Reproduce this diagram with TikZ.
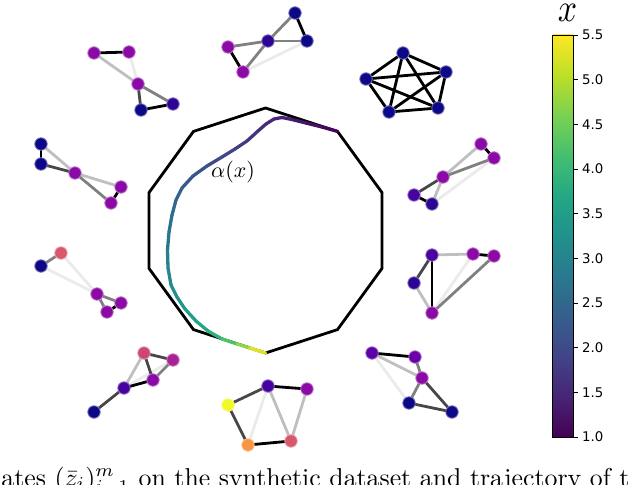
\documentclass[tikz,border=0pt]{standalone}
\usepackage{fontspec}
\usepackage{graphicx}
\newfontfamily\djv{DejaVu Sans}
% viridis
\definecolor{v0}{HTML}{440154}
\definecolor{v1}{HTML}{482475}
\definecolor{v2}{HTML}{414487}
\definecolor{v3}{HTML}{355F8D}
\definecolor{v4}{HTML}{2A788E}
\definecolor{v5}{HTML}{21918C}
\definecolor{v6}{HTML}{22A884}
\definecolor{v7}{HTML}{44BF70}
\definecolor{v8}{HTML}{7AD151}
\definecolor{v9}{HTML}{BDDF26}
\definecolor{v10}{HTML}{FDE725}
% plasma-like node colours
\definecolor{dkb}{HTML}{0D0887}
\definecolor{indA}{HTML}{2C0594}
\definecolor{indB}{HTML}{46039F}
\definecolor{purA}{HTML}{5C01A6}
\definecolor{purB}{HTML}{6A00A8}
\definecolor{purC}{HTML}{8B0AA5}
\definecolor{magC}{HTML}{A82296}
\definecolor{pinkC}{HTML}{CC4778}
\definecolor{roseC}{HTML}{D8576B}
\definecolor{orngC}{HTML}{F89540}
\definecolor{yelC}{HTML}{F0F921}
\pgfdeclareverticalshading{viridisbar}{100bp}{color(0bp)=(v0); color(25bp)=(v0); color(30bp)=(v1); color(35bp)=(v2); color(40bp)=(v3); color(45bp)=(v4); color(50bp)=(v5); color(55bp)=(v6); color(60bp)=(v7); color(65bp)=(v8); color(70bp)=(v9); color(75bp)=(v10); color(100bp)=(v10)}
\tikzset{
  gn/.style={circle, minimum size=12.5bp, inner sep=0pt, line width=0.8bp, fill=#1, draw=#1!55!white},
  ge/.style={line width=2.8bp, draw=#1},
  e0/.style={ge=black},
  e1/.style={ge=black!72},
  e2/.style={ge=black!50},
  e3/.style={ge=black!25},
  e4/.style={ge=black!8},
  poly/.style={line width=2.8bp, black, line join=miter},
  traj/.style={line width=3.3bp, line cap=round, line join=round},
  tick/.style={line width=0.8bp, black},
  ticklab/.style={anchor=west, inner sep=0pt, font=\djv\fontsize{13.3bp}{16bp}\selectfont}
}
\begin{document}
\begin{tikzpicture}[x=1bp, y=-1bp]
\useasboundingbox (0,0) rectangle (640,485);
\clip (0,0) rectangle (640,485);

% ---------- decagon ----------
\draw[poly] (265.5,108) -- (193.5,131.4) -- (149.0,192.6) -- (149.0,268.4) -- (193.5,329.6)
  -- (265.5,353) -- (337.5,329.6) -- (382.0,268.4) -- (382.0,192.6) -- (337.5,131.4) -- cycle;

% ---------- trajectory alpha(x) ----------
\foreach \i/\px/\py in {0/337.5/131.4, 1/322/127, 2/306/123, 3/292/119.5, 4/282/117.5, 5/274/119, 6/266/124,
  7/258/131, 8/247/141, 9/235/149, 10/222/157, 11/207/166, 12/193/176, 13/182/188, 14/176/200,
  15/172/215, 16/169/232, 17/167.5/250, 18/168/268, 19/171/285, 20/177/297, 21/185/309,
  22/196/321, 23/208/331, 24/222/339, 25/237/344, 26/250/348, 27/265.5/353}
  {\coordinate (p\i) at (\px,\py);}
\foreach \i/\tv in {1/15,2/40,3/65,4/85,5/100,6/115,7/130,8/150,9/175,10/200,11/225,12/250,13/280,14/310,
  15/340,16/370,17/400,18/430,19/460,20/490,21/520,22/550,23/590,24/640,25/720,26/830,27/950}
{
  \pgfmathtruncatemacro\j{\i-1}
  \pgfmathtruncatemacro\k{\tv/100}
  \pgfmathtruncatemacro\f{\tv-100*\k}
  \pgfmathtruncatemacro\kk{min(\k+1,10)}
  \colorlet{segc}{v\kk!\f!v\k}
  \draw[traj, segc] (p\j) -- (p\i);
}
\node[anchor=base west, inner sep=0pt] (alab) at (211,177.5) {\scalebox{2.2}{$\alpha(x)$}};

% ---------- graph 1 (top left) ----------
\coordinate (a1) at (94,53);
\coordinate (a2) at (129,52);
\coordinate (a3) at (138,84);
\coordinate (a4) at (141,110);
\coordinate (a5) at (173,104);
\draw[e4] (a2) -- (a3);
\draw[e3] (a1) -- (a3);
\draw[e1] (a3) -- (a4);
\draw[e2] (a3) -- (a5);
\draw[e0] (a1) -- (a2);
\draw[e0] (a4) -- (a5);
\foreach \n/\c in {a1/purC,a2/purC,a3/purC,a4/dkb,a5/indA} {\node[gn=\c] (n\n) at (\n) {};}

% ---------- graph 2 (top) ----------
\coordinate (b1) at (295,13);
\coordinate (b2) at (307,41);
\coordinate (b3) at (268,41);
\coordinate (b4) at (228,47);
\coordinate (b5) at (243,72);
\draw[e4] (b5) -- (b2);
\draw[e2] (b1) -- (b3);
\draw[e2] (b3) -- (b2);
\draw[e2] (b3) -- (b4);
\draw[e2] (b3) -- (b5);
\draw[e0] (b1) -- (b2);
\draw[e0] (b4) -- (b5);
\foreach \n/\c in {b1/dkb,b2/dkb,b3/indA,b4/purC,b5/purC} {\node[gn=\c] (n\n) at (\n) {};}

% ---------- graph 3 (K5) ----------
\coordinate (c1) at (403,53);
\coordinate (c2) at (446,72);
\coordinate (c3) at (366,79);
\coordinate (c4) at (389,112);
\coordinate (c5) at (438,108);
\foreach \u/\v in {c1/c2,c1/c3,c1/c4,c1/c5,c2/c3,c2/c4,c2/c5,c3/c4,c3/c5,c4/c5} {\draw[e0] (\u) -- (\v);}
\foreach \n in {c1,c2,c3,c4,c5} {\node[gn=dkb] (n\n) at (\n) {};}

% ---------- graph 4 (left upper) ----------
\coordinate (d1) at (41,144);
\coordinate (d2) at (41,164);
\coordinate (d3) at (75,173);
\coordinate (d4) at (121,187);
\coordinate (d5) at (111,203);
\draw[e3] (d1) -- (d3);
\draw[e3] (d3) -- (d4);
\draw[e2] (d3) -- (d5);
\draw[e1] (d2) -- (d3);
\draw[e0] (d1) -- (d2);
\draw[e0] (d4) -- (d5);
\foreach \n/\c in {d1/dkb,d2/dkb,d3/purC,d4/purC,d5/purC} {\node[gn=\c] (n\n) at (\n) {};}

% ---------- graph 5 (left lower) ----------
\coordinate (e1) at (61,253);
\coordinate (e2) at (41,266);
\coordinate (e3) at (97,294);
\coordinate (e4) at (121,303);
\coordinate (e5) at (107,312);
\draw[e4] (e1) -- (e3);
\draw[e4] (e2) -- (e3);
\draw[e2] (e2) -- (e1);
\draw[e2] (e3) -- (e4);
\draw[e2] (e3) -- (e5);
\draw[e0] (e4) -- (e5);
\foreach \n/\c in {e1/roseC,e2/dkb,e3/purC,e4/purC,e5/purC} {\node[gn=\c] (n\n) at (\n) {};}

% ---------- graph 6 (right upper) ----------
\coordinate (f1) at (481,144);
\coordinate (f2) at (494,158);
\coordinate (f3) at (443,177);
\coordinate (f4) at (414,195);
\coordinate (f5) at (432,204);
\draw[e4] (f2) -- (f5);
\draw[e3] (f1) -- (f3);
\draw[e3] (f3) -- (f5);
\draw[e2] (f2) -- (f3);
\draw[e1] (f3) -- (f4);
\draw[e0] (f1) -- (f2);
\draw[e0] (f4) -- (f5);
\foreach \n/\c in {f1/purC,f2/purC,f3/purC,f4/indB,f5/indA} {\node[gn=\c] (n\n) at (\n) {};}

% ---------- graph 7 (right lower) ----------
\coordinate (g1) at (432,255);
\coordinate (g2) at (473,254);
\coordinate (g3) at (494,256);
\coordinate (g4) at (414,283);
\coordinate (g5) at (432,313);
\draw[e4] (g2) -- (g5);
\draw[e3] (g1) -- (g2);
\draw[e3] (g4) -- (g5);
\draw[e2] (g3) -- (g5);
\draw[e1] (g1) -- (g4);
\draw[e0] (g2) -- (g3);
\draw[e0] (g1) -- (g5);
\foreach \n/\c in {g1/indB,g2/purC,g3/purC,g4/indA,g5/purC} {\node[gn=\c] (n\n) at (\n) {};}

% ---------- graph 8 (bottom left) ----------
\coordinate (h1) at (144,353);
\coordinate (h2) at (173,360);
\coordinate (h3) at (153,380);
\coordinate (h4) at (124,388);
\coordinate (h5) at (94,412);
\draw[e4] (h2) -- (h4);
\draw[e3] (h1) -- (h4);
\draw[e2] (h2) -- (h3);
\draw[e1] (h1) -- (h2);
\draw[e1] (h1) -- (h3);
\draw[e1] (h4) -- (h5);
\draw[e0] (h3) -- (h4);
\foreach \n/\c in {h1/pinkC,h2/magC,h3/purC,h4/indB,h5/dkb} {\node[gn=\c] (n\n) at (\n) {};}

% ---------- graph 9 (bottom) ----------
\coordinate (i1) at (268,386);
\coordinate (i2) at (307,389);
\coordinate (i3) at (228,405);
\coordinate (i4) at (248,445);
\coordinate (i5) at (291,441);
\draw[e4] (i1) -- (i4);
\draw[e3] (i1) -- (i5);
\draw[e3] (i2) -- (i5);
\draw[e1] (i1) -- (i3);
\draw[e1] (i3) -- (i4);
\draw[e0] (i1) -- (i2);
\draw[e0] (i4) -- (i5);
\foreach \n/\c in {i1/indB,i2/purC,i3/yelC,i4/orngC,i5/roseC} {\node[gn=\c] (n\n) at (\n) {};}

% ---------- graph 10 (bottom right) ----------
\coordinate (j1) at (372,353);
\coordinate (j2) at (415,357);
\coordinate (j3) at (422,378);
\coordinate (j4) at (409,403);
\coordinate (j5) at (452,412);
\draw[e4] (j1) -- (j4);
\draw[e3] (j1) -- (j3);
\draw[e2] (j2) -- (j3);
\draw[e2] (j3) -- (j4);
\draw[e1] (j3) -- (j5);
\draw[e1] (j4) -- (j5);
\draw[e0] (j1) -- (j2);
\foreach \n/\c in {j1/purA,j2/purB,j3/purC,j4/dkb,j5/dkb} {\node[gn=\c] (n\n) at (\n) {};}

% ---------- colorbar ----------
\shade[shading=viridisbar] (552.5,35) rectangle (573,437);
\draw[line width=0.8bp] (552.5,35) rectangle (573,437);
\foreach \v/\y in {1.0/437,1.5/392.3,2.0/347.7,2.5/303,3.0/258.3,3.5/213.7,4.0/169,4.5/124.3,5.0/79.7,5.5/35}
{
  \draw[tick] (573,\y) -- (578,\y);
  \node[ticklab] at (582,\y) {\v};
}
\node[inner sep=0pt] (xlab) at (567.5,12.5) {\scalebox{3.4}[4.0]{$x$}};

% ---------- caption (cut off) ----------
\node[anchor=base west, inner sep=0pt] (cap) at (1.3,486) {\scalebox{2.59}{ates $(\bar{z}_i)_{i=1}^m$ on the synthetic dataset and trajectory of t}};
\end{tikzpicture}
\end{document}
